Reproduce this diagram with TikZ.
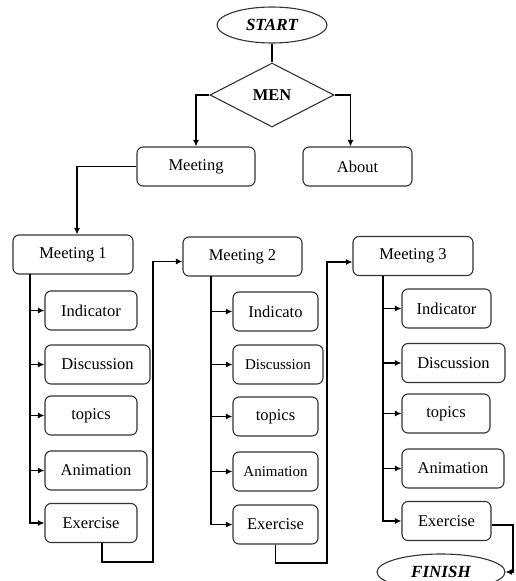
\documentclass[tikz,border=0pt]{standalone}
\usepackage{fontspec}
\setmainfont{Liberation Serif}
\usetikzlibrary{shapes.geometric}
\usetikzlibrary{arrows.meta}
\tikzset{x=1pt, y=-1pt,
  every node/.style={align=center, font=\fontsize{16.5}{18}\selectfont},
         box/.style={ % rounded boxes for menus
           draw=black!80, line width=1.1pt, rounded corners=6pt,
           minimum height=39pt, inner sep=0pt},
         term/.style={ellipse, draw=black!80, line width=1.1pt, inner sep=0pt,
           font=\fontsize{17}{19}\selectfont\bfseries\itshape},
         choice/.style={diamond, draw=black!80, line width=1.1pt, inner sep=0pt,
           font=\fontsize{16.5}{18}\selectfont\bfseries},
         small/.style={font=\fontsize{15}{17}\selectfont},
         link/.style={draw, line width=1.2pt},
         arrow/.style={link, -{Latex[length=6.5pt,width=6pt]}}}

\begin{document}
\begin{tikzpicture}
  \useasboundingbox (0,0) rectangle (515,581);

  \node [term, minimum width=110pt, minimum height=36pt] (start) at (272,25) {START};
  \node [choice, minimum width=124pt, minimum height=64pt] (men) at (272,95) {MEN};
  \node [box, minimum width=118pt] (meet) at (196,166.5) {Meeting};
  \node [box, minimum width=109pt] (about) at (357.5,166.5) {About};

  % Meeting 1
  \node [box, minimum width=120pt] (m1) at (73,254.5) {Meeting 1};
  \node [box, minimum width=92pt] (ind1) at (91,310.5) {Indicator};
  \node [box, minimum width=105pt] (dis1) at (97.5,364.5) {Discussion};
  \node [box, minimum width=92pt] (top1) at (91,415.5) {topics};
  \node [box, minimum width=102pt] (ani1) at (96,470.5) {Animation};
  \node [box, minimum width=92pt] (ex1) at (91,523) {Exercise};

  % Meeting 2
  \node [box, minimum width=119pt] (m2) at (242.5,256.5) {Meeting 2};
  \node [box, minimum width=85pt] (ind2) at (275.5,311.5) {Indicato};
  \node [box, small, minimum width=90pt] (dis2) at (278,364.5) {Discussion};
  \node [box, minimum width=85pt] (top2) at (275.5,416.5) {topics};
  \node [box, small, minimum width=85pt] (ani2) at (275.5,471.5) {Animation};
  \node [box, minimum width=85pt] (ex2) at (275.5,524.5) {Exercise};

  % Meeting 3
  \node [box, minimum width=120pt] (m3) at (413,256) {Meeting 3};
  \node [box, minimum width=89pt] (ind3) at (446.5,308.5) {Indicator};
  \node [box, minimum width=103pt] (dis3) at (453.5,363) {Discussion};
  \node [box, minimum width=88pt] (top3) at (446,413.5) {topics};
  \node [box, minimum width=102pt] (ani3) at (453,468.5) {Animation};
  \node [box, minimum width=89pt] (ex3) at (446.5,521) {Exercise};

  \node [term, minimum width=128pt, minimum height=36pt] (finish) at (441,572) {FINISH};

  \coordinate (t1) at (30,274);
  \coordinate (t2) at (211,276);
  \coordinate (t3) at (383,275.5);
  \coordinate (j1) at (153,562);
  \coordinate (j2) at (327,563);
  \coordinate (j3) at (513,550);

  \draw [link] (start) -- (men);
  \draw [arrow] (men.west) -| (meet.north);
  \draw [arrow] (men.east) -| ([xshift=-7pt]about.north);
  \draw [arrow] (meet.west) -| ([xshift=4pt]m1.north);

  \foreach \n in {ind1,dis1,top1,ani1,ex1}
    \draw [arrow] (t1) |- (\n.west);
  \foreach \n in {ind2,dis2,top2,ani2,ex2}
    \draw [arrow] (t2) |- (\n.west);
  \foreach \n in {ind3,dis3,top3,ani3,ex3}
    \draw [arrow] (t3) |- (\n.west);

  \draw [arrow] ([xshift=11pt]ex1.south) |- (j1) |- ([yshift=-5pt]m2.west);
  \draw [arrow] (ex2.south) |- (j2) |- ([yshift=-6pt]m3.west);
  \draw [arrow] ([yshift=-4pt]ex3.east) -| (j3) |- (finish.east);

\end{tikzpicture}
\end{document}
